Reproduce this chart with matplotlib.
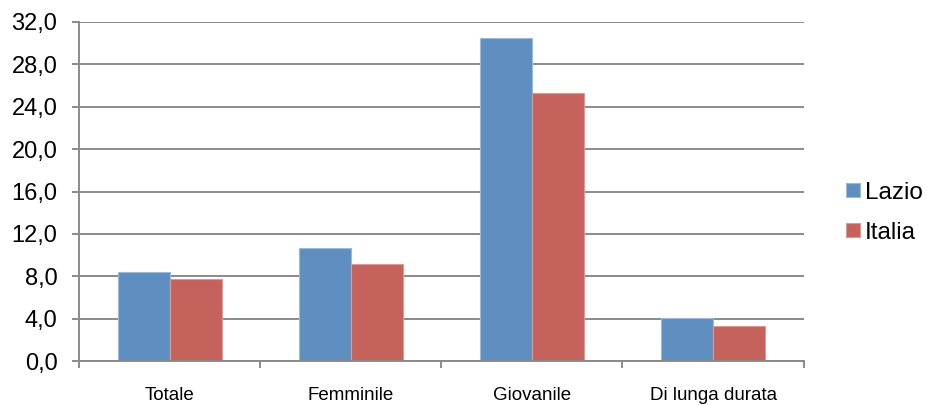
import matplotlib
matplotlib.use("Agg")
import matplotlib.pyplot as plt
from matplotlib.ticker import FuncFormatter, FixedLocator
import numpy as np

plt.rcParams['font.family'] = ['Liberation Sans', 'DejaVu Sans']

categorie = ['Totale', 'Femminile', 'Giovanile', 'Di lunga durata']
lazio = [8.4, 10.7, 30.5, 4.1]
italia = [7.7, 9.2, 25.3, 3.3]
yticks = [0, 4, 8, 12, 16, 20, 24, 28, 32]

grigio = '#8A8A8A'
blu = '#5E8FC0'
rosso = '#C5625C'

fig = plt.figure(figsize=(9.28, 4.05), dpi=100)
ax = fig.add_axes([0.0851, 0.1086, 0.866 - 0.0851, 0.9457 - 0.1086])

x = np.arange(len(categorie))
w = 0.287
ax.bar(x - w / 2, lazio, w, color=blu, edgecolor='#9CB9D9', linewidth=0.8,
       label='Lazio', zorder=3)
ax.bar(x + w / 2, italia, w, color=rosso, edgecolor='#DC9894', linewidth=0.8,
       label='Italia', zorder=3)

ax.set_xlim(-0.5, len(categorie) - 0.5)
ax.set_ylim(0, 32)
ax.set_yticks(yticks)
ax.yaxis.set_major_formatter(FuncFormatter(lambda v, p: f'{v:.1f}'.replace('.', ',')))
ax.grid(axis='y', color=grigio, linewidth=1.4, zorder=0)

ax.set_xticks(x)
ax.set_xticklabels(categorie, fontsize=13.5)
ax.xaxis.set_minor_locator(FixedLocator(np.arange(-0.5, len(categorie), 1.0)))
ax.tick_params(axis='x', which='major', length=0, pad=18.5)
ax.tick_params(axis='x', which='minor', length=5, width=1.4, color=grigio)
ax.tick_params(axis='y', length=5, width=1.4, color=grigio, pad=10.5,
               labelsize=17)

for s in ['top', 'right']:
    ax.spines[s].set_visible(False)
for s in ['left', 'bottom']:
    ax.spines[s].set_color(grigio)
    ax.spines[s].set_linewidth(1.4)
ax.spines['bottom'].set_zorder(4)

fig.legend(loc='center left', bbox_to_anchor=(0.912, 0.475), frameon=False,
           fontsize=17.5, handlelength=0.55, handleheight=0.55,
           handletextpad=0.2, labelspacing=0.75, borderaxespad=0,
           borderpad=0)

fig.savefig('out.png', dpi=100)
